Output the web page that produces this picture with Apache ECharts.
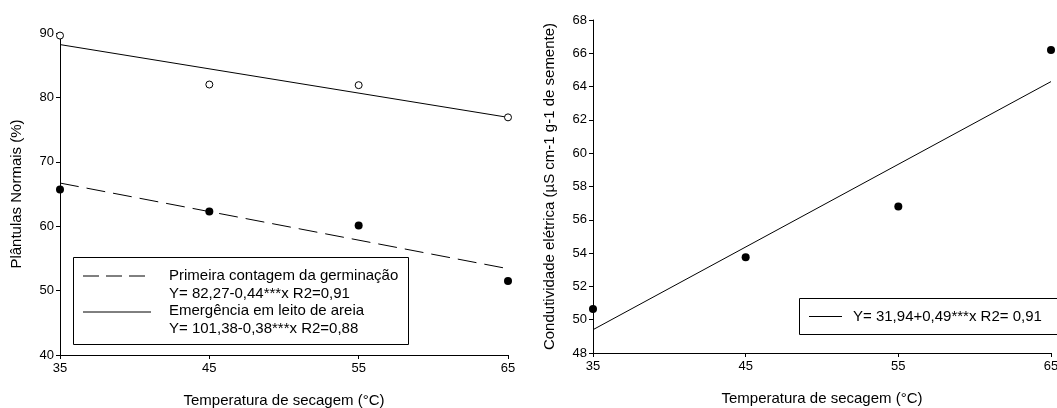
<!DOCTYPE html>
<html>
<head>
<meta charset="utf-8">
<script src="https://cdn.jsdelivr.net/npm/echarts@6/dist/echarts.min.js"></script>
<style>
html,body{margin:0;padding:0;background:#fff;}
#chart{width:1057px;height:408px;}
</style>
</head>
<body>
<div id="chart"></div>
<script>
// ---- data ----
const temps = [35, 45, 55, 65];
const xTicks = [35, 45, 55, 65];
const emergencia = [89.6, 82.0, 81.9, 76.9];
const primeira = [65.7, 62.3, 60.1, 51.5];
const condutividade = [50.65, 53.75, 56.8, 66.2];
const fitX = [35, 65];
const emergenciaFit = [88.2, 76.9];
const primeiraFit = [66.7, 53.4];
const condutividadeFit = [49.4, 64.3];
const leftYTicks = [40, 50, 60, 70, 80, 90];
const rightYTicks = [48, 50, 52, 54, 56, 58, 60, 62, 64, 66, 68];
const xTitle = 'Temperatura de secagem (°C)';
const leftYTitle = 'Plântulas Normais (%)';
const rightYTitle = 'Condutividade elétrica (µS cm-1 g-1 de semente)';
const legendLeft = [
  'Primeira contagem da germinação',
  'Y= 82,27-0,44***x R2=0,91',
  'Emergência em leito de areia',
  'Y= 101,38-0,38***x R2=0,88'
];
const legendRight = 'Y= 31,94+0,49***x R2= 0,91';

const pairs = (xs, ys) => xs.map((x, i) => [x, ys[i]]);
const FONT = 'Liberation Sans, Arial, sans-serif';

const axisCommon = {
  axisLine: {show: true, onZero: false, lineStyle: {color: '#000', width: 1}},
  axisTick: {show: true, inside: false, length: 4, lineStyle: {color: '#000'}},
  splitLine: {show: false},
  axisLabel: {color: '#000', fontFamily: FONT, fontSize: 13},
  nameTextStyle: {color: '#000', fontFamily: FONT, fontSize: 15},
  nameLocation: 'middle'
};

function xAxisDef(gridIndex) {
  return Object.assign({}, axisCommon, {
    type: 'value', gridIndex: gridIndex,
    min: xTicks[0], max: xTicks[xTicks.length - 1], interval: xTicks[1] - xTicks[0],
    name: xTitle, nameGap: 38,
    axisLabel: Object.assign({}, axisCommon.axisLabel, {margin: 7})
  });
}
function yAxisDef(gridIndex, ticks, name, gap) {
  return Object.assign({}, axisCommon, {
    type: 'value', gridIndex: gridIndex,
    min: ticks[0], max: ticks[ticks.length - 1], interval: ticks[1] - ticks[0],
    name: name, nameGap: gap, nameRotate: 90,
    axisLabel: Object.assign({}, axisCommon.axisLabel, {margin: 6})
  });
}

const chart = echarts.init(document.getElementById('chart'), null, {renderer: 'canvas'});

const txt = (x, y, s) => ({type: 'text', x: x, y: y, z: 11,
  style: {text: s, fill: '#000', font: '15px ' + FONT, textVerticalAlign: 'middle'}});

chart.setOption({
  animation: false,
  backgroundColor: '#fff',
  grid: [
    {left: 60, top: 33, width: 448, height: 322, containLabel: false, outerBoundsMode: 'none'},
    {left: 593, top: 20, width: 458, height: 333, containLabel: false, outerBoundsMode: 'none'}
  ],
  xAxis: [xAxisDef(0), xAxisDef(1)],
  yAxis: [
    yAxisDef(0, leftYTicks, leftYTitle, 36),
    yAxisDef(1, rightYTicks, rightYTitle, 36)
  ],
  series: [
    {type: 'line', xAxisIndex: 0, yAxisIndex: 0, data: pairs(fitX, emergenciaFit), symbol: 'none',
      lineStyle: {color: '#000', width: 1}, z: 2},
    {type: 'line', xAxisIndex: 0, yAxisIndex: 0, data: pairs(fitX, primeiraFit), symbol: 'none',
      lineStyle: {color: '#000', width: 1, type: [19, 8]}, z: 2},
    {type: 'scatter', xAxisIndex: 0, yAxisIndex: 0, data: pairs(temps, emergencia), symbol: 'circle', symbolSize: 7,
      itemStyle: {color: '#fff', borderColor: '#000', borderWidth: 1, opacity: 1}, z: 3},
    {type: 'scatter', xAxisIndex: 0, yAxisIndex: 0, data: pairs(temps, primeira), symbol: 'circle', symbolSize: 8,
      itemStyle: {color: '#000', opacity: 1}, z: 3},
    {type: 'line', xAxisIndex: 1, yAxisIndex: 1, data: pairs(fitX, condutividadeFit), symbol: 'none',
      lineStyle: {color: '#000', width: 1}, z: 2},
    {type: 'scatter', xAxisIndex: 1, yAxisIndex: 1, data: pairs(temps, condutividade), symbol: 'circle', symbolSize: 8,
      itemStyle: {color: '#000', opacity: 1}, z: 3}
  ],
  graphic: [
    {type: 'rect', shape: {x: 73.5, y: 257.5, width: 335, height: 87}, style: {fill: '#fff', stroke: '#000', lineWidth: 1}, z: 10},
    {type: 'line', shape: {x1: 83, y1: 276, x2: 145, y2: 276}, style: {stroke: '#000', lineWidth: 1, lineDash: [16, 7]}, z: 11},
    {type: 'line', shape: {x1: 83, y1: 312, x2: 151, y2: 312}, style: {stroke: '#000', lineWidth: 1}, z: 11},
    txt(169, 276, legendLeft[0]),
    txt(169, 293.5, legendLeft[1]),
    txt(169, 311, legendLeft[2]),
    txt(169, 328.5, legendLeft[3]),
    {type: 'rect', shape: {x: 799.5, y: 298.5, width: 270, height: 36}, style: {fill: '#fff', stroke: '#000', lineWidth: 1}, z: 10},
    {type: 'line', shape: {x1: 809, y1: 316.5, x2: 842, y2: 316.5}, style: {stroke: '#000', lineWidth: 1}, z: 11},
    txt(853, 316.5, legendRight)
  ]
});
</script>
</body>
</html>
